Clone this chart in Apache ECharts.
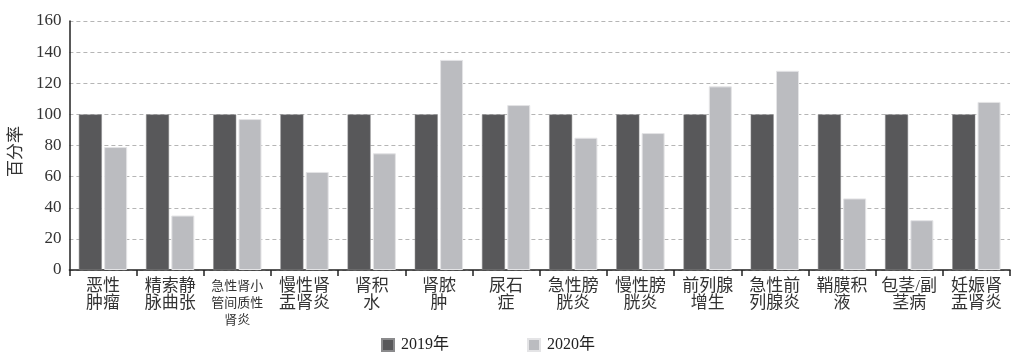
<!DOCTYPE html>
<html><head><meta charset="utf-8">
<script src="https://cdn.jsdelivr.net/npm/echarts@6/dist/echarts.min.js"></script>
<style>html,body{margin:0;padding:0;background:#fff}#c{width:1024px;height:362px}</style>
</head><body><div id="c"></div>
<script>
const categories = ['恶性\n肿瘤','精索静\n脉曲张','急性肾小\n管间质性\n肾炎','慢性肾\n盂肾炎','肾积\n水','肾脓\n肿','尿石\n症','急性膀\n胱炎','慢性膀\n胱炎','前列腺\n增生','急性前\n列腺炎','鞘膜积\n液','包茎/副\n茎病','妊娠肾\n盂肾炎'];
const series2019 = [100,100,100,100,100,100,100,100,100,100,100,100,100,100];
const series2020 = [79,35,97,63,75,135,106,85,88,118,128,46,32,108];
const seriesNames = ['2019年','2020年'];
const yTicks = [0,20,40,60,80,100,120,140,160];

const FONT = '"Liberation Serif","Noto Sans CJK SC",serif';
const chart = echarts.init(document.getElementById('c'));
chart.setOption({
  animation:false,
  textStyle:{fontFamily:FONT},
  grid:{left:62,right:14,top:21,bottom:92},
  legend:{
    data:seriesNames, bottom:4, left:376, itemWidth:12, itemHeight:12, itemGap:78,
    icon:'rect', textStyle:{fontFamily:FONT,fontSize:16,color:'#222',padding:[0,0,0,2]}
  },
  xAxis:{
    type:'category', data:categories,
    axisLine:{lineStyle:{color:'#222',width:1.5}},
    axisTick:{show:true,length:6,lineStyle:{color:'#222',width:1.5}},
    axisLabel:{interval:0,margin:8,color:'#333',fontSize:17,lineHeight:17,fontFamily:FONT,
      formatter:function(v){
        if(v.split('\n').length>2){return v.split('\n').map(s=>'{s|'+s+'}').join('\n');}
        return v;
      },
      rich:{s:{fontSize:13,lineHeight:17,fontFamily:FONT,color:'#333'}}
    }
  },
  yAxis:{
    type:'value', min:yTicks[0], max:yTicks[yTicks.length-1], interval:20,
    name:'百分率', nameLocation:'middle', nameGap:40, nameRotate:90,
    nameTextStyle:{fontSize:17,color:'#333',fontFamily:FONT,padding:[0,0,0,-12]},
    axisLine:{show:true,lineStyle:{color:'#222',width:1.5}},
    axisTick:{show:false},
    axisLabel:{fontSize:17,color:'#333',margin:8,fontFamily:FONT},
    splitLine:{lineStyle:{type:[4,3],color:'#b5b5b5',width:1}}
  },
  series:[
    {name:seriesNames[0],type:'bar',data:series2019,barWidth:23,barGap:'10%',
     itemStyle:{color:'#58585a',borderColor:'#8a8a8c',borderWidth:0.5}},
    {name:seriesNames[1],type:'bar',data:series2020,barWidth:23,barGap:'10%',
     itemStyle:{color:'#bbbcc0',borderColor:'#e4e4e6',borderWidth:1}}
  ]
});
</script>
</body></html>
